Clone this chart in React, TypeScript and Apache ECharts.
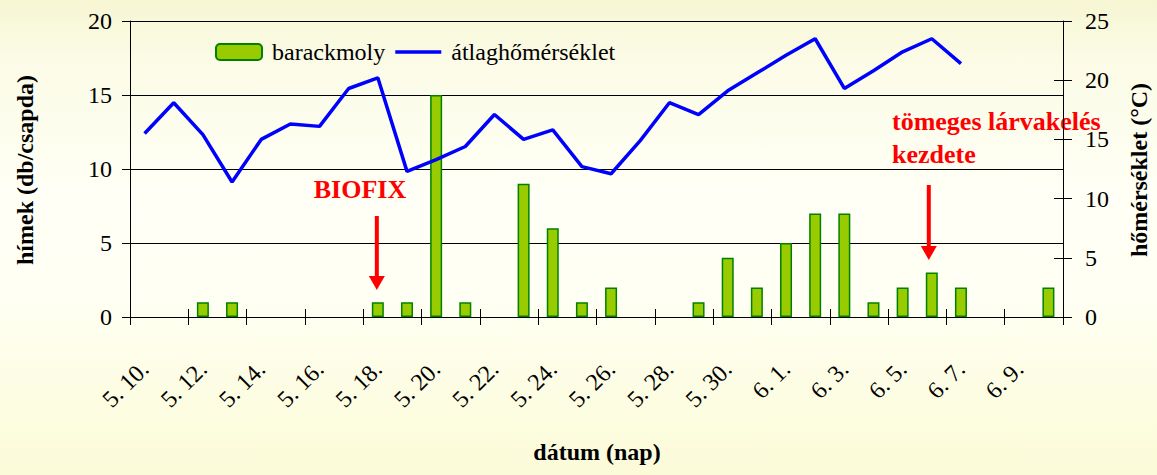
import React, { useEffect, useRef } from "react";
import * as echarts from "echarts";

const categories = [
  "5. 10.", "5. 11.", "5. 12.", "5. 13.", "5. 14.", "5. 15.", "5. 16.", "5. 17.",
  "5. 18.", "5. 19.", "5. 20.", "5. 21.", "5. 22.", "5. 23.", "5. 24.", "5. 25.",
  "5. 26.", "5. 27.", "5. 28.", "5. 29.", "5. 30.", "5. 31.", "6. 1.", "6. 2.",
  "6. 3.", "6. 4.", "6. 5.", "6. 6.", "6. 7.", "6. 8.", "6. 9.", "6. 10.",
];

// hímek (db/csapda)
const mothCounts = [
  null, null, 1, 1, null, null, null, null,
  1, 1, 15, 1, null, 9, 6, 1,
  2, null, null, 1, 4, 2, 5, 7,
  7, 1, 2, 3, 2, null, null, 2,
];

// átlaghőmérséklet (°C)
const temperatures = [
  15.5, 18.1, 15.4, 11.4, 15.0, 16.3, 16.1, 19.3,
  20.2, 12.3, 13.3, 14.4, 17.1, 15.0, 15.8, 12.7,
  12.1, 14.9, 18.1, 17.1, 19.1, 20.6, 22.1, 23.5,
  19.3, 20.8, 22.4, 23.5, 21.4, null, null, null,
];

const seriesNames = ["barackmoly", "átlaghőmérséklet"];
const leftTitle = "hímek (db/csapda)";
const rightTitle = "hőmérséklet (°C)";
const bottomTitle = "dátum (nap)";
const biofixLabel = "BIOFIX";
const larvaLabel = ["tömeges lárvakelés", "kezdete"];
const biofixDay = "5. 18.";
const larvaDay = "6. 6.";

const FONT = "'Liberation Serif', 'Times New Roman', serif";

export default function App() {
  const ref = useRef<HTMLDivElement>(null);

  useEffect(() => {
    const chart = echarts.init(ref.current!, null, { renderer: "svg" });
    chart.setOption({
      animation: false,
      backgroundColor: "transparent",
      textStyle: { fontFamily: FONT },
      grid: { left: 130, right: 94, top: 21, bottom: 158, containLabel: false },
      legend: {
        left: 210,
        top: 35,
        itemWidth: 46,
        itemHeight: 16,
        itemGap: 10,
        symbolKeepAspect: true,
        textStyle: { fontSize: 24, color: "#000", fontFamily: FONT, padding: [0, 0, 0, 5] },
        data: [
          { name: seriesNames[0] },
          { name: seriesNames[1], icon: "path://M0,0L46,0L46,3.5L0,3.5Z" },
        ],
      },
      xAxis: [
        {
          type: "category",
          data: categories,
          boundaryGap: true,
          axisLine: { lineStyle: { color: "#000", width: 1 } },
          axisTick: { show: true, interval: 1, length: 8, lineStyle: { color: "#000" } },
          axisLabel: { interval: 1, rotate: 45, margin: 48, fontSize: 24, color: "#000", fontFamily: FONT },
          splitLine: { show: false },
        },
        {
          type: "category",
          data: categories,
          position: "bottom",
          boundaryGap: true,
          axisLine: { show: false },
          axisTick: { show: true, inside: true, interval: 1, length: 8, lineStyle: { color: "#000" } },
          axisLabel: { show: false },
          splitLine: { show: false },
        },
      ],
      yAxis: [
        {
          type: "value",
          min: 0,
          max: 20,
          interval: 5,
          position: "left",
          axisLine: { show: true, lineStyle: { color: "#000", width: 1 } },
          axisTick: { show: true, length: 8, lineStyle: { color: "#000" } },
          axisLabel: { fontSize: 24, color: "#000", margin: 18, fontFamily: FONT },
          splitLine: { show: true, lineStyle: { color: "#000", width: 1 } },
        },
        {
          type: "value",
          min: 0,
          max: 25,
          interval: 5,
          position: "right",
          axisLine: { show: true, lineStyle: { color: "#000", width: 1 } },
          axisTick: { show: true, length: 9, lineStyle: { color: "#000" } },
          axisLabel: { fontSize: 24, color: "#000", margin: 22, fontFamily: FONT },
          splitLine: { show: false },
        },
        {
          type: "value",
          min: 0,
          max: 25,
          interval: 5,
          position: "right",
          axisLine: { show: false },
          axisTick: { show: true, inside: true, length: 9, lineStyle: { color: "#000" } },
          axisLabel: { show: false },
          splitLine: { show: false },
        },
      ],
      series: [
        {
          name: seriesNames[0],
          type: "bar",
          xAxisIndex: 0,
          yAxisIndex: 0,
          data: mothCounts,
          barWidth: 12,
          itemStyle: { color: "#99cc00", borderColor: "#008000", borderWidth: 1.5 },
        },
        {
          name: seriesNames[1],
          type: "line",
          xAxisIndex: 0,
          yAxisIndex: 1,
          data: temperatures,
          symbol: "none",
          showSymbol: false,
          lineStyle: { color: "#0000ff", width: 3.5 },
          itemStyle: { color: "#0000ff" },
        },
      ],
    });

    const px = (cat: string, v: number) =>
      chart.convertToPixel({ xAxisIndex: 0, yAxisIndex: 0 }, [cat, v]) as number[];
    const b0 = px(biofixDay, 0);
    const l0 = px(larvaDay, 0);
    const bx = b0[0] - 1;
    const lx = l0[0] - 3;

    const redText = (text: string, x: number, y: number, align: string) => ({
      type: "text",
      x,
      y,
      style: {
        text,
        fill: "#ff0000",
        font: `bold 26px ${FONT}`,
        textAlign: align,
        align,
        textVerticalAlign: "middle",
        verticalAlign: "middle",
      },
    });
    const arrow = (x: number, yTop: number, yTip: number) => [
      { type: "line", shape: { x1: x, y1: yTop, x2: x, y2: yTip - 12 }, style: { stroke: "#ff0000", lineWidth: 4 } },
      {
        type: "polygon",
        shape: { points: [[x - 8, yTip - 14], [x + 8, yTip - 14], [x, yTip]] },
        style: { fill: "#ff0000" },
      },
    ];
    const title = (text: string, x: number, y: number, rotation: number) => ({
      type: "text",
      x,
      y,
      rotation,
      style: {
        text,
        fill: "#000",
        font: `bold 24px ${FONT}`,
        textAlign: "center",
        align: "center",
        textVerticalAlign: "middle",
        verticalAlign: "middle",
      },
    });

    chart.setOption({
      graphic: [
        redText(biofixLabel, 360, 189, "center"),
        ...arrow(bx, 216, 290),
        redText(larvaLabel[0], 892, 121, "left"),
        redText(larvaLabel[1], 892, 154, "left"),
        ...arrow(lx, 185, 260),
        title(leftTitle, 25, 170, Math.PI / 2),
        title(rightTitle, 1139, 170, Math.PI / 2),
        title(bottomTitle, 597, 452, 0),
      ],
    });

    return () => chart.dispose();
  }, []);

  return (
    <div
      ref={ref}
      style={{
        position: "absolute",
        left: 0,
        top: 0,
        width: 1157,
        height: 475,
        background:
          "linear-gradient(to bottom, #f6f6d3 0%, #fbfbe6 12%, #fffff5 40%, #fffff4 62%, #fdfde4 82%, #fbfbd9 100%)",
      }}
    />
  );
}
